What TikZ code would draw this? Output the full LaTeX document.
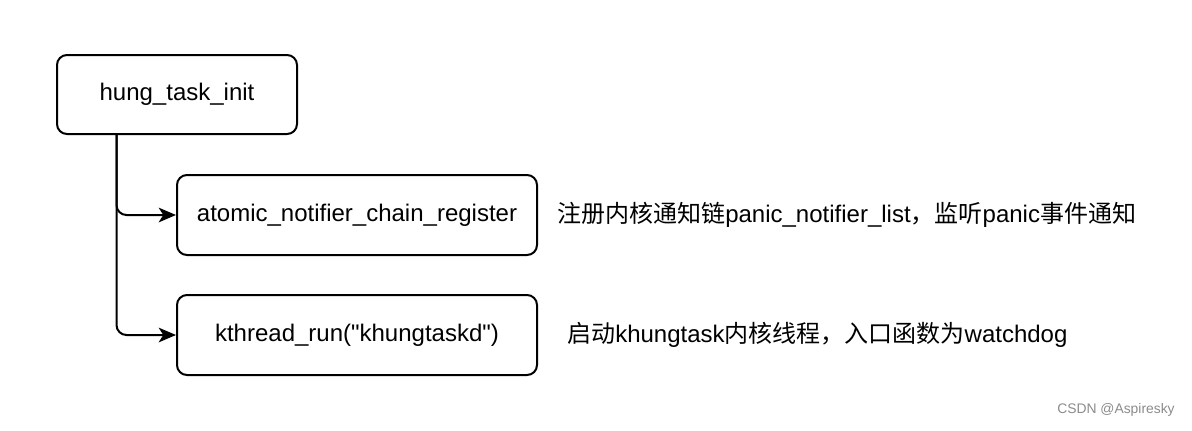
\documentclass[tikz,border=0pt]{standalone}
\usepackage{fontspec}
\setmainfont{Liberation Sans}[Ligatures=TeXOff]
\newfontfamily\cjk{Noto Sans CJK SC}
\usetikzlibrary{calc,arrows.meta}
\begin{document}
\begin{tikzpicture}[x=0.75pt,y=-0.75pt,
  box/.style={draw=black,line width=1.5pt,rounded corners=7.5pt,fill=white,
    inner sep=0pt,font=\fontsize{18}{21}\selectfont},
  conn/.style={draw=black,line width=1.5pt,rounded corners=7.5pt,
    -{Stealth[length=13pt,width=11pt,inset=3.5pt]}},
  lbl/.style={anchor=west,inner sep=0pt,font=\fontsize{18}{21}\selectfont}]
\useasboundingbox[fill=white] (0,0) rectangle (1192,430);
\node[box,minimum width=180pt,minimum height=59.25pt] (hung) at (177,94.5) {hung\_task\_init};
\node[box,minimum width=270pt,minimum height=60pt] (atomic) at (357,215) {atomic\_notifier\_chain\_register};
\node[box,minimum width=270pt,minimum height=60pt] (kthread) at (357,335) {kthread\_run("khungtaskd")};
\coordinate (start) at ($(hung.south west)!0.25!(hung.south east)$);
\draw[conn] (start) |- (atomic.west);
\draw[conn] (start) |- (kthread.west);
\node[lbl] (t1) at (557,215) {{\cjk 注册内核通知链}panic\_notifier\_list{\cjk ，监听}panic{\cjk 事件通知}};
\node[lbl] (t2) at (567,335) {{\cjk 启动}khungtask{\cjk 内核线程，入口函数为}watchdog};
\node[inner sep=0pt,text=black!45,font=\fontsize{10.4}{12}\selectfont] (wm) at (1116,410) {CSDN @Aspiresky};
\end{tikzpicture}
\end{document}
